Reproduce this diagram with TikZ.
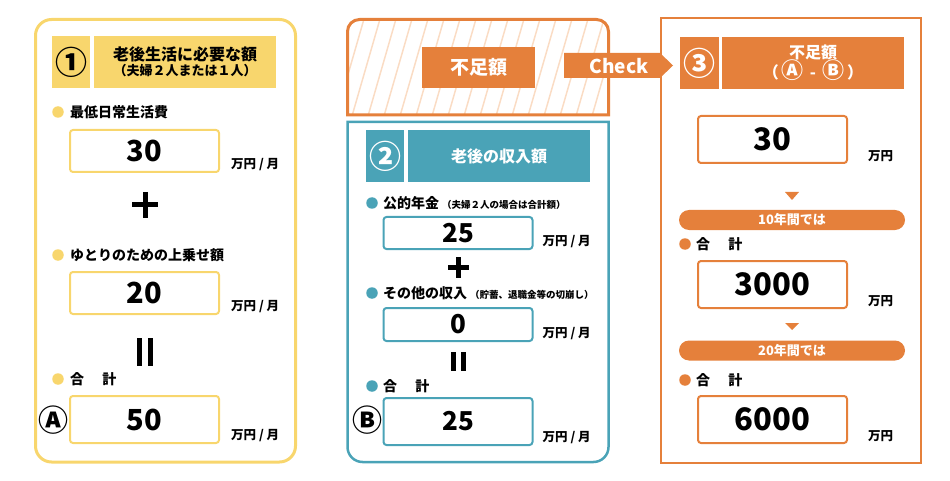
\documentclass[tikz,border=0pt]{standalone}
\usepackage{fontspec}
\setmainfont{Noto Sans CJK JP}
\usetikzlibrary{positioning}
\definecolor{yel}{HTML}{F8D66D}
\definecolor{ora}{HTML}{E5803B}
\definecolor{tealc}{HTML}{4AA3B7}
\definecolor{hatchc}{HTML}{FADCC4}
\newcommand{\fs}[1]{\fontsize{#1}{#1}\selectfont}

\begin{document}
\begin{tikzpicture}[x=1pt,y=-1pt,
    hd/.style={fill=#1, minimum height=52pt, inner sep=0pt, align=center},
    valbox/.style={draw=#1, line width=2pt, rounded corners=3pt,
        minimum width=149pt, inner sep=0pt, font=\bfseries\fs{29}},
    bul/.style={circle, fill=#1, minimum size=11.5pt, inner sep=0pt},
    lbl/.style={anchor=west, inner sep=0pt, font=\bfseries\fs{14}},
    unit/.style={anchor=south west, inner sep=0pt, font=\bfseries\fs{12.5}},
    pill/.style={fill=ora, rounded corners=10pt, minimum width=226pt,
        minimum height=20pt, inner sep=0pt, text=white, font=\bfseries\fs{13}},
    bar/.style={line width=#1}]
  \useasboundingbox (0,0) rectangle (950,481);

  % panel 1
  \draw[yel, line width=3pt, rounded corners=16pt] (35.5,19.5) rectangle (295.5,462);
  \node[hd=yel, minimum width=38pt, font=\bfseries\fs{32}] (n1) at (71,62) {①};
  \node[hd=yel, minimum width=182pt, font=\bfseries\fs{16}] (t1) at (185,62)
      {老後生活に必要な額\\[-1pt]{\fs{13}（夫婦２人または１人）}};
  \node[bul=yel] (d11) at (58,112) {};
  \node[lbl] (l11) at (70,112) {最低日常生活費};
  \node[valbox=yel, minimum height=42pt] (b11) at (144.5,151) {30};
  \node[unit] (u11) at ([xshift=11pt,yshift=2pt]b11.south east) {万円 / 月};
  \draw[bar=5pt] (132,205) -- (158,205) (145,192) -- (145,218);
  \node[bul=yel] (d12) at (58,255) {};
  \node[lbl] (l12) at (70,255) {ゆとりのための上乗せ額};
  \node[valbox=yel, minimum height=42pt] (b12) at (144.5,293) {20};
  \node[unit] (u12) at ([xshift=11pt,yshift=2pt]b12.south east) {万円 / 月};
  \draw[bar=5.5pt] (139.5,338) -- (139.5,366) (150.5,338) -- (150.5,366);
  \node[bul=yel] (d13) at (58,379) {};
  \node[lbl] (l13) at (70,379) {合\hspace{1.3em}計};
  \node[font=\bfseries\fs{30}, inner sep=0pt] (ca) at (53,420) {Ⓐ};
  \node[valbox=yel, minimum height=47pt] (b13) at (144.5,419.5) {50};
  \node[unit] (u13) at ([xshift=11pt,yshift=2pt]b13.south east) {万円 / 月};

  % panel 2, hatched top
  \begin{scope}
    \clip[rounded corners=12pt] (347.5,116) |- (608.5,19.5) -- (608.5,116) [sharp corners] -- cycle;
    \foreach \i in {0,...,22}
      \draw[hatchc, line width=1.5pt] (320+16*\i,116) -- (348+16*\i,19);
  \end{scope}
  \draw[ora, line width=3pt] (347.5,115) [rounded corners=12pt] |- (608.5,19.5)
      [sharp corners] -- (608.5,115) -- cycle;
  \node[fill=ora, minimum width=113pt, minimum height=41pt, inner sep=0pt,
      text=white, font=\bfseries\fs{19}] (gap) at (478.5,67.5) {不足額};
  \fill[ora] (564,53) -- (660,53) -- (673,65.5) -- (660,78) -- (564,78) -- cycle;
  \node[text=white, font=\bfseries\fs{19}, inner sep=0pt] (chk) at (619,66) {Check};

  % panel 2, income
  \draw[tealc, line width=2.5pt] (347.5,122) [rounded corners=15pt] |- (608.5,462)
      [sharp corners] -- (608.5,122) -- cycle;
  \node[hd=tealc, minimum width=38pt, text=white, font=\bfseries\fs{32}] (n2) at (385,156) {②};
  \node[hd=tealc, minimum width=182pt, text=white, font=\bfseries\fs{16}] (t2) at (499,156) {老後の収入額};
  \node[bul=tealc] (d21) at (372,203) {};
  \node[lbl] (l21) at (383,203) {公的年金\hspace{3pt}{\fs{9.5}（夫婦２人の場合は合計額）}};
  \node[valbox=tealc, minimum height=32pt, font=\bfseries\fs{26}] (b21) at (458,233) {25};
  \node[unit] (u21) at ([xshift=9pt,yshift=2pt]b21.south east) {万円 / 月};
  \draw[bar=4.5pt] (448,267.5) -- (469,267.5) (458.5,257) -- (458.5,278);
  \node[bul=tealc] (d22) at (372,293) {};
  \node[lbl] (l22) at (383,293) {その他の収入\hspace{3pt}{\fs{9.5}（貯蓄、退職金等の切崩し）}};
  \node[valbox=tealc, minimum height=33pt, font=\bfseries\fs{26}] (b22) at (458,324.5) {0};
  \node[unit] (u22) at ([xshift=9pt,yshift=2pt]b22.south east) {万円 / 月};
  \draw[bar=5.5pt] (453.5,352) -- (453.5,371) (463.5,352) -- (463.5,371);
  \node[bul=tealc] (d23) at (372,386) {};
  \node[lbl] (l23) at (383,386) {合\hspace{1.3em}計};
  \node[font=\bfseries\fs{30}, inner sep=0pt] (cb) at (367,420) {Ⓑ};
  \node[valbox=tealc, minimum height=47pt, font=\bfseries\fs{26}] (b23) at (458,421.5) {25};
  \node[unit] (u23) at ([xshift=9pt,yshift=2pt]b23.south east) {万円 / 月};

  % panel 3
  \draw[ora, line width=2pt] (661,18) rectangle (921,463);
  \node[hd=ora, minimum width=39pt, text=white, font=\bfseries\fs{32}] (n3) at (699.5,63) {③};
  \node[hd=ora, minimum width=182pt, text=white, font=\bfseries\fs{16}] (t3) at (813,63)
      {不足額\\[-1pt]（\,{\fs{22}Ⓐ}\, - \,{\fs{22}Ⓑ}\,）};
  \node[valbox=ora, minimum height=47pt, font=\bfseries\fs{31}] (b31) at (772.5,139.5) {30};
  \node[unit] (u31) at ([xshift=20pt,yshift=2pt]b31.south east) {万円};
  \fill[ora] (785,192) -- (799,192) -- (792,200) -- cycle;
  \node[pill] (p1) at (792,220) {10年間では};
  \node[bul=ora] (d31) at (685,244) {};
  \node[lbl] (l31) at (696,244) {合\hspace{1.3em}計};
  \node[valbox=ora, minimum height=47pt, font=\bfseries\fs{31}] (b32) at (772.5,284.5) {3000};
  \node[unit] (u32) at ([xshift=20pt,yshift=2pt]b32.south east) {万円};
  \fill[ora] (785,323) -- (799,323) -- (792,330) -- cycle;
  \node[pill] (p2) at (792,350.5) {20年間では};
  \node[bul=ora] (d32) at (685,380) {};
  \node[lbl] (l32) at (696,380) {合\hspace{1.3em}計};
  \node[valbox=ora, minimum height=47pt, font=\bfseries\fs{31}] (b33) at (772.5,419.5) {6000};
  \node[unit] (u33) at ([xshift=20pt,yshift=2pt]b33.south east) {万円};
\end{tikzpicture}
\end{document}
